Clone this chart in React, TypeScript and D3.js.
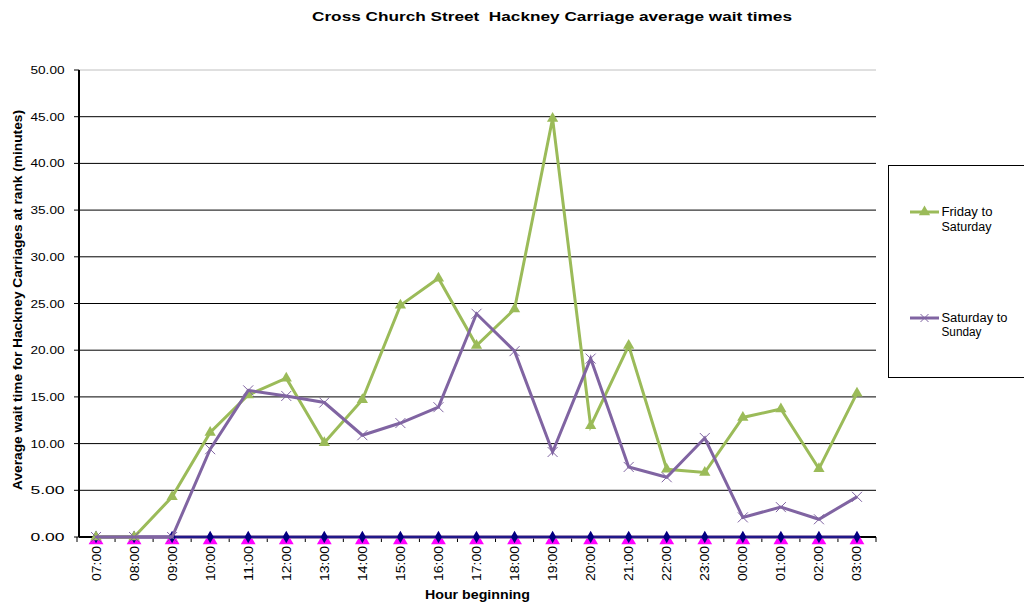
import React from "react";
import * as d3 from "d3";

const categories = ["07:00","08:00","09:00","10:00","11:00","12:00","13:00","14:00","15:00","16:00","17:00","18:00","19:00","20:00","21:00","22:00","23:00","00:00","01:00","02:00","03:00"];
const fridayToSaturday = [0, 0, 4.3, 11.2, 15.2, 17.0, 10.1, 14.7, 24.8, 27.7, 20.5, 24.4, 44.8, 11.9, 20.5, 7.25, 6.9, 12.8, 13.7, 7.3, 15.4];
const saturdayToSunday = [0, 0, 0, 9.4, 15.7, 15.1, 14.4, 10.9, 12.2, 13.9, 23.9, 19.9, 9.1, 19.1, 7.5, 6.4, 10.6, 2.1, 3.2, 1.9, 4.3];
const hiddenSeriesA = categories.map(() => 0);
const hiddenSeriesB = categories.map(() => 0);
const yTicks = [0, 5, 10, 15, 20, 25, 30, 35, 40, 45, 50];

const GREEN = "#9BBB59";
const PURPLE = "#8064A2";
const MAGENTA = "#FF00FF";
const NAVY = "#000080";
const FONT = "Arial, 'Liberation Sans', sans-serif";

export default function App() {
  const W = 1024, H = 606;
  const left = 79, right = 876, top = 70, bottom = 537;
  const x = d3.scaleBand<string>().domain(categories).range([left - 2, right]);
  const cx = (c: string) => (x(c) as number) + x.bandwidth() / 2;
  const y = d3.scaleLinear().domain([0, 50]).range([bottom, top]);
  const line = d3.line<number>().x((_, i) => cx(categories[i])).y((d) => y(d));
  const tri = d3.symbol().type(d3.symbolTriangle).size(55)();
  const triMag = d3.symbol().type(d3.symbolTriangle).size(95)();
  const dia = d3.symbol().type(d3.symbolDiamond).size(44)();
  const xMark = (s: number) => `M${-s},${-s}L${s},${s}M${-s},${s}L${s},${-s}`;
  const boundaries = categories.map((c) => x(c) as number).concat([right]);
  const LA = "spacingAndGlyphs";

  return (
    <svg width={W} height={H} style={{ display: "block", position: "absolute", left: 0, top: 0 }} fontFamily={FONT}>
      <rect width={W} height={H} fill="#fff" />
      <text x={312} y={21} fontSize={13.5} fontWeight="bold" textLength={480} lengthAdjust={LA} style={{ whiteSpace: "pre" }}>
        Cross Church Street  Hackney Carriage average wait times
      </text>
      {yTicks.map((t) => (
        <g key={t}>
          {t > 0 && (
            <line x1={left} x2={right} y1={y(t)} y2={y(t)} stroke={t === 50 ? "#c0c0c0" : "#000"} strokeWidth={1} />
          )}
          <line x1={left - 5} x2={left} y1={y(t)} y2={y(t)} stroke="#000" />
          <text x={64.5} y={y(t) + 4} textAnchor="end" fontSize={11.5} textLength={34} lengthAdjust={LA}>
            {t.toFixed(2)}
          </text>
        </g>
      ))}
      <line x1={left} x2={left} y1={top} y2={bottom} stroke="#000" strokeWidth={2} />
      <line x1={left} x2={right} y1={bottom} y2={bottom} stroke="#000" strokeWidth={2} />
      {boundaries.map((b, i) => (
        <line key={i} x1={b} x2={b} y1={bottom} y2={bottom + 5} stroke="#000" />
      ))}
      {categories.map((c) => (
        <text key={c} transform={`translate(${cx(c) + 4.5},${546}) rotate(-90)`} textAnchor="end" fontSize={12} textLength={35} lengthAdjust={LA}>
          {c}
        </text>
      ))}
      <text x={425} y={599} fontSize={12.5} fontWeight="bold" textLength={105} lengthAdjust={LA}>
        Hour beginning
      </text>
      <text transform={`translate(22,490) rotate(-90)`} fontSize={12.5} fontWeight="bold" textLength={380} lengthAdjust={LA}>
        Average wait time for Hackney Carriages at rank (minutes)
      </text>

      {/* hidden zero series */}
      {hiddenSeriesA.map((v, i) => (
        <path key={"a" + i} d={triMag} transform={`translate(${cx(categories[i])},${y(v) + 3})`} fill={MAGENTA} />
      ))}
      <path d={line(saturdayToSunday.map(() => 0)) as string} fill="none" stroke={PURPLE} strokeWidth={3.5} />
      <path d={line(hiddenSeriesB) as string} fill="none" stroke={NAVY} strokeWidth={1.5} />
      {hiddenSeriesB.map((v, i) => (
        <path key={"b" + i} d={dia} transform={`translate(${cx(categories[i])},${y(v)})`} fill={NAVY} />
      ))}

      {/* Friday to Saturday */}
      <path d={line(fridayToSaturday) as string} fill="none" stroke={GREEN} strokeWidth={3} />
      {fridayToSaturday.map((v, i) => (
        <path key={"f" + i} d={tri} transform={`translate(${cx(categories[i])},${y(v)})`} fill={GREEN} />
      ))}
      {/* Saturday to Sunday */}
      <path d={line(saturdayToSunday) as string} fill="none" stroke={PURPLE} strokeWidth={3} />
      {saturdayToSunday.map((v, i) => (
        <path key={"s" + i} d={xMark(5)} transform={`translate(${cx(categories[i])},${y(v)})`} stroke={PURPLE} strokeWidth={1} fill="none" />
      ))}

      {/* legend */}
      <rect x={888.5} y={165.5} width={140} height={212} fill="#fff" stroke="#000" strokeWidth={1} />
      <line x1={910} x2={939} y1={212} y2={212} stroke={GREEN} strokeWidth={3} />
      <path d={tri} transform="translate(924.5,212)" fill={GREEN} />
      <text x={941.5} y={216} fontSize={12} textLength={51} lengthAdjust={LA}>Friday to</text>
      <text x={941.5} y={231} fontSize={12} textLength={50} lengthAdjust={LA}>Saturday</text>
      <line x1={910} x2={939} y1={318} y2={318} stroke={PURPLE} strokeWidth={3} />
      <path d={xMark(4)} transform="translate(924.5,318)" stroke={PURPLE} strokeWidth={1} fill="none" />
      <text x={941.5} y={322} fontSize={12} textLength={66} lengthAdjust={LA}>Saturday to</text>
      <text x={941.5} y={336} fontSize={12} textLength={40} lengthAdjust={LA}>Sunday</text>
    </svg>
  );
}
